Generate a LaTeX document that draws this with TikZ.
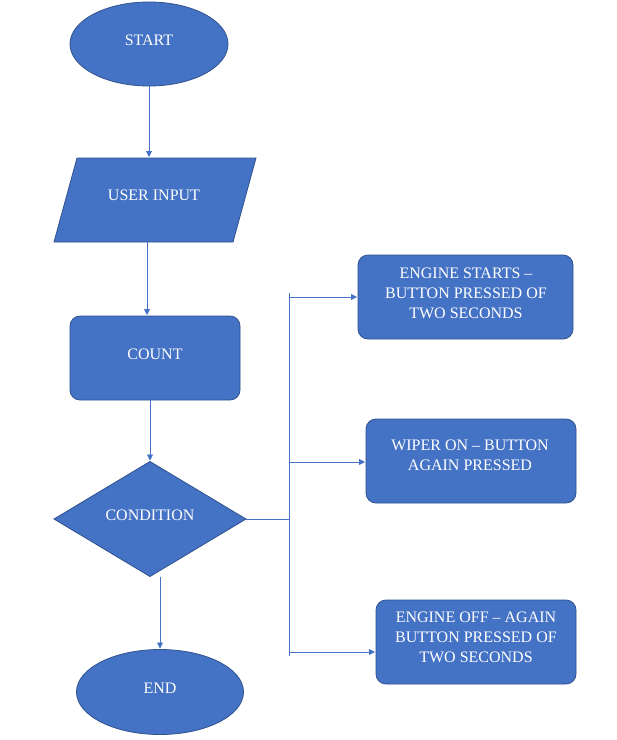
\documentclass[tikz,border=0pt]{standalone}
\usepackage{fontspec}
\setmainfont{Liberation Serif}
\usetikzlibrary{shapes.geometric,arrows.meta}
\definecolor{ofblue}{HTML}{4472C4}
\definecolor{ofedge}{HTML}{2F528F}
\begin{document}
\begin{tikzpicture}[x=1pt,y=-1pt,
  shapebox/.style={fill=ofblue,draw=ofedge,line width=0.8pt,inner sep=0pt,outer sep=0pt},
  lbl/.style={text=white,font=\fontsize{16pt}{20pt}\selectfont,align=center,inner sep=0pt},
  conn/.style={draw=ofblue,line width=0.9pt},
  arr/.style={conn,shorten >=1pt,-{Triangle[length=6pt,width=6pt]}}]
\fill[white] (0,0) rectangle (617,740);
\useasboundingbox (0,0) rectangle (617,740);

% left column shapes
\node[shapebox,ellipse,minimum width=158pt,minimum height=84pt] (start) at (149,44) {};
\node[lbl] (tstart) at (149,40) {START};

\coordinate (pTL) at (77,158);
\coordinate (pTR) at (256,158);
\coordinate (pBR) at (233,242);
\coordinate (pBL) at (54,242);
\fill[ofblue,draw=ofedge,line width=0.8pt] (pTL) -- (pTR) -- (pBR) -- (pBL) -- cycle;
\node[lbl] (tinput) at (154,195) {USER INPUT};

\node[shapebox,rectangle,rounded corners=10pt,minimum width=170pt,minimum height=84pt] (count) at (155,358) {};
\node[lbl] (tcount) at (155,354) {COUNT};

\node[shapebox,diamond,minimum width=192pt,minimum height=115pt] (cond) at (150,519) {};
\node[lbl] (tcond) at (150,515) {CONDITION};

\node[shapebox,ellipse,minimum width=167pt,minimum height=85pt] (end) at (160,692) {};
\node[lbl] (tend) at (160,688) {END};

% right column boxes
\node[shapebox,rectangle,rounded corners=10pt,minimum width=215pt,minimum height=84pt] (box1) at (465.5,297) {};
\node[lbl] (tbox1) at (466,293) {ENGINE STARTS --\\BUTTON PRESSED OF\\TWO SECONDS};

\node[shapebox,rectangle,rounded corners=10pt,minimum width=210pt,minimum height=84pt] (box2) at (471,461) {};
\node[lbl] (tbox2) at (470,455) {WIPER ON -- BUTTON\\AGAIN PRESSED};

\node[shapebox,rectangle,rounded corners=10pt,minimum width=200pt,minimum height=84pt] (box3) at (476,642) {};
\node[lbl] (tbox3) at (476,637) {ENGINE OFF -- AGAIN\\BUTTON PRESSED OF\\TWO SECONDS};

% main flow connectors
\coordinate (intop) at (149,158);
\coordinate (inbot) at (147,242);
\draw[arr] (start.south) -- (intop);
\draw[arr] (inbot) -- (inbot |- count.north);
\draw[arr] (cond.north |- count.south) -- (cond.north);
\draw[arr] (end.north |- cond.south) -- (end.north);

% branch trunk
\coordinate (jn) at (289,519);
\coordinate (ttop) at (289,293);
\coordinate (tbot) at (289,656);
\draw[conn] (cond.east) -- (jn);
\draw[conn] (ttop) -- (tbot);
\coordinate (b1) at (289,297);
\coordinate (b2) at (289,462);
\coordinate (b3) at (289,652);
\draw[arr] (b1) -- (b1 -| box1.west);
\draw[arr] (b2) -- (b2 -| box2.west);
\draw[arr] (b3) -- (b3 -| box3.west);
\end{tikzpicture}
\end{document}
